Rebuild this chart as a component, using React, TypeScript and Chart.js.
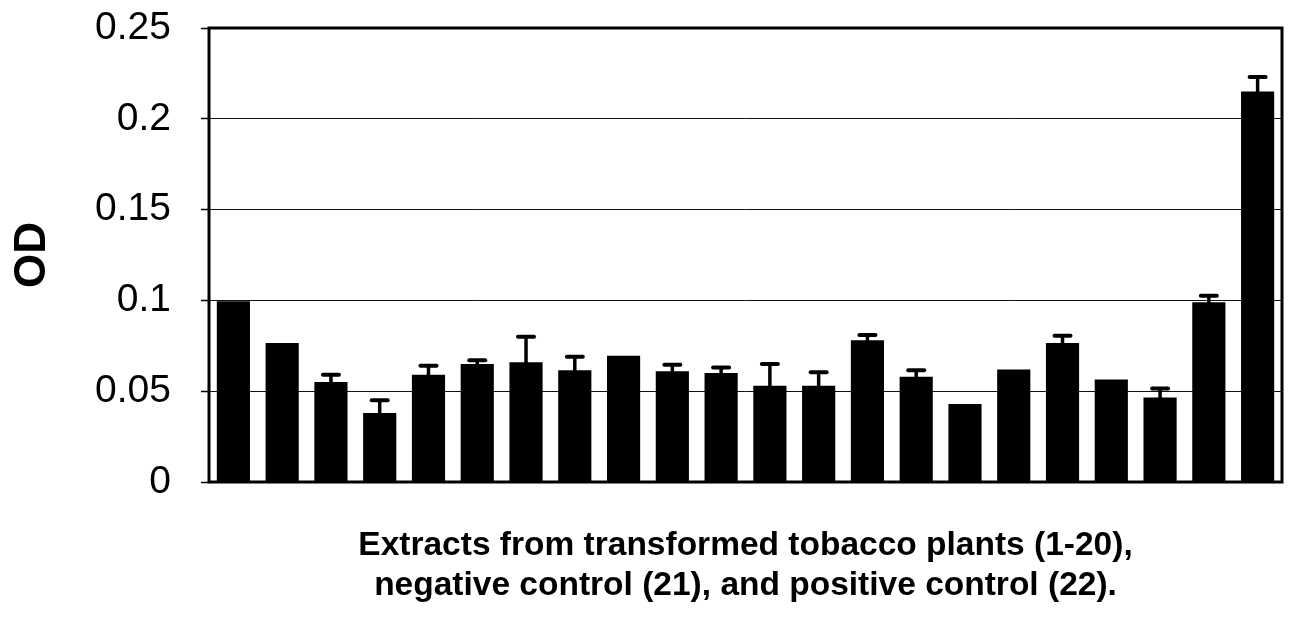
import React, { useEffect, useRef } from "react";
import { Chart, registerables } from "chart.js";

Chart.register(...registerables);

const categories = ["1", "2", "3", "4", "5", "6", "7", "8", "9", "10", "11", "12", "13", "14", "15", "16", "17", "18", "19", "20", "21", "22"];
const odValues = [0.0995, 0.0765, 0.055, 0.038, 0.059, 0.065, 0.066, 0.0615, 0.0695, 0.061, 0.06, 0.053, 0.053, 0.078, 0.058, 0.043, 0.062, 0.0765, 0.0565, 0.0465, 0.099, 0.215];
const odErrors = [0, 0, 0.004, 0.007, 0.005, 0.002, 0.014, 0.0075, 0, 0.0035, 0.003, 0.012, 0.0075, 0.003, 0.0035, 0, 0, 0.004, 0, 0.005, 0.0035, 0.008];
const yTickLabels = ["0", "0.05", "0.1", "0.15", "0.2", "0.25"];
const yTitle = "OD";
const xTitleLines = [
  "Extracts from transformed tobacco plants (1-20),",
  "negative control (21), and positive control (22).",
];

const FONT = "'Liberation Sans', Arial, Helvetica, sans-serif";

const errorBarPlugin = {
  id: "errorBars",
  afterDatasetsDraw(chart: any) {
    const meta = chart.getDatasetMeta(0);
    const yScale = chart.scales.y;
    const ctx = chart.ctx;
    ctx.save();
    ctx.strokeStyle = "#000";
    meta.data.forEach((bar: any, i: number) => {
      const e = odErrors[i];
      if (!e) return;
      const base = yScale.getPixelForValue(odValues[i]);
      const top = yScale.getPixelForValue(odValues[i] + e);
      ctx.lineWidth = 3.5;
      ctx.lineCap = "butt";
      ctx.beginPath();
      ctx.moveTo(bar.x, base + 1);
      ctx.lineTo(bar.x, top);
      ctx.stroke();
      ctx.lineWidth = 4;
      ctx.lineCap = "round";
      ctx.beginPath();
      ctx.moveTo(bar.x - 8, top);
      ctx.lineTo(bar.x + 8, top);
      ctx.stroke();
    });
    ctx.restore();
  },
};

const framePlugin = {
  id: "frame",
  afterDatasetsDraw(chart: any) {
    const { left, top, right, bottom } = chart.chartArea;
    const ctx = chart.ctx;
    ctx.save();
    ctx.strokeStyle = "#000";
    ctx.lineWidth = 3;
    ctx.strokeRect(left, top, right - left, bottom - top);
    ctx.restore();
  },
};

export default function App() {
  const canvasRef = useRef<HTMLCanvasElement | null>(null);

  useEffect(() => {
    if (!canvasRef.current) return;
    const chart = new Chart(canvasRef.current, {
      type: "bar",
      data: {
        labels: categories,
        datasets: [
          {
            data: odValues,
            backgroundColor: "#000",
            borderWidth: 0,
            barPercentage: 0.68,
            categoryPercentage: 1,
          },
        ],
      },
      options: {
        animation: false,
        responsive: true,
        maintainAspectRatio: false,
        layout: { padding: { left: 0, right: 14, top: 28, bottom: 0 } },
        plugins: {
          legend: { display: false },
          tooltip: { enabled: false },
        },
        scales: {
          x: {
            ticks: { display: false },
            grid: { display: false },
            border: { display: false },
            title: {
              display: true,
              text: xTitleLines,
              color: "#000",
              font: { family: FONT, size: 33.5, weight: "bold", lineHeight: 40 / 33.5 },
              padding: { top: 0, bottom: 11 },
            },
            afterFit: (scale: any) => {
              scale.height = 135;
              scale.paddingLeft = 0;
              scale.paddingRight = 0;
            },
          },
          y: {
            min: 0,
            max: 0.25,
            ticks: {
              stepSize: 0.05,
              color: "#000",
              padding: 30,
              font: { family: FONT, size: 39 },
              callback: (_v: any, i: number) => yTickLabels[i],
            },
            grid: {
              color: "#111",
              lineWidth: 1,
              tickLength: 8,
              tickColor: "#000",
              tickWidth: 1.5,
            },
            border: { display: false },
            title: {
              display: true,
              text: yTitle,
              color: "#000",
              font: { family: FONT, size: 44, weight: "bold", lineHeight: 1 },
              padding: { top: 11, bottom: 0 },
            },
            afterFit: (scale: any) => {
              scale.width = 209;
              scale.paddingTop = 0;
              scale.paddingBottom = 0;
            },
          },
        },
      },
      plugins: [errorBarPlugin, framePlugin],
    });
    return () => chart.destroy();
  }, []);

  return (
    <div style={{ position: "absolute", left: 0, top: 0, width: 1296, height: 617, background: "#fff" }}>
      <canvas ref={canvasRef} />
    </div>
  );
}
